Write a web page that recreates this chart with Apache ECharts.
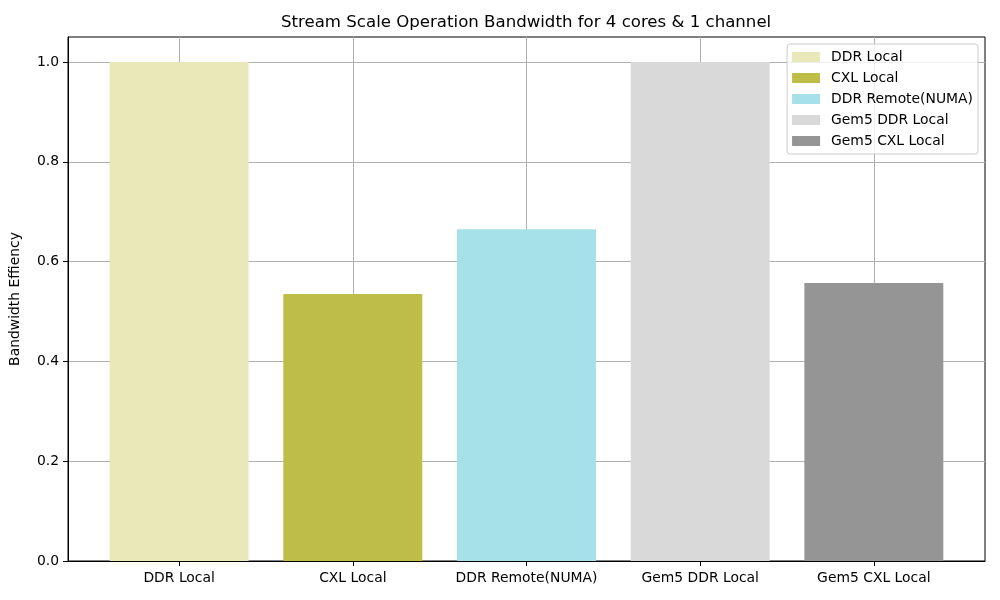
<!DOCTYPE html>
<html>
<head>
<meta charset="utf-8">
<script src="https://cdn.jsdelivr.net/npm/echarts@6/dist/echarts.min.js"></script>
<style>html,body{margin:0;padding:0;background:#fff}#c{width:1000px;height:600px}</style>
</head>
<body>
<div id="c"></div>
<script>
const categories = ['DDR Local', 'CXL Local', 'DDR Remote(NUMA)', 'Gem5 DDR Local', 'Gem5 CXL Local'];
const values = [1.0, 0.535, 0.665, 1.0, 0.557];
const colors = ['#e8e8b9', '#bdbd48', '#a6e0e8', '#d9d9d9', '#959595'];
const yTicks = [0, 0.2, 0.4, 0.6, 0.8, 1.0];
const xTicks = [0, 1, 2, 3, 4];

const FONT = 'DejaVu Sans';
const chart = echarts.init(document.getElementById('c'), null, {renderer: 'canvas'});
const series = categories.map((name, i) => ({
  name: name,
  type: 'bar',
  data: [[i, values[i]]],
  barWidth: '80%',
  barGap: '-100%',
  itemStyle: {color: colors[i]},
  z: 2
}));
chart.setOption({
  animation: false,
  textStyle: {fontFamily: FONT},
  title: {
    text: 'Stream Scale Operation Bandwidth for 4 cores & 1 channel',
    left: 276, top: 9,
    textStyle: {fontFamily: FONT, fontSize: 16.6, fontWeight: 'normal', color: '#000'}
  },
  grid: {left: 66, right: 15, top: 37, bottom: 39, show: true, borderColor: '#000', borderWidth: 1, backgroundColor: 'transparent'},
  legend: {
    orient: 'vertical', right: 22, top: 44,
    itemWidth: 28, itemHeight: 10, itemGap: 7,
    icon: 'rect',
    padding: [6, 5, 6, 5],
    backgroundColor: 'rgba(255,255,255,0.8)',
    borderColor: '#cccccc', borderWidth: 1, borderRadius: 3,
    formatter: name => '{t|' + name + '}',
    textStyle: {fontFamily: FONT, fontSize: 13.9, color: '#000',
      rich: {t: {fontFamily: FONT, fontSize: 13.9, color: '#000', padding: [0, 0, 0, 6]}}},
    data: categories
  },
  xAxis: {
    type: 'value', min: -0.64, max: 4.64,
    axisLine: {show: true, onZero: false, lineStyle: {color: '#000', width: 1}},
    axisTick: {show: true, inside: false, length: 5, customValues: xTicks, lineStyle: {color: '#000', width: 1}},
    axisLabel: {customValues: xTicks, margin: 10, color: '#000', fontFamily: FONT, fontSize: 13.9,
      formatter: v => categories[Math.round(v)] || ''},
    splitLine: {show: true, lineStyle: {color: '#b0b0b0', width: 1}}
  },
  yAxis: {
    type: 'value', min: 0, max: 1.05,
    name: 'Bandwidth Effiency', nameLocation: 'middle', nameRotate: 90, nameGap: 46,
    nameTextStyle: {fontFamily: FONT, fontSize: 13.9, color: '#000'},
    axisLine: {show: true, onZero: false, lineStyle: {color: '#000', width: 1}},
    axisTick: {show: true, inside: false, length: 5, customValues: yTicks, lineStyle: {color: '#000', width: 1}},
    axisLabel: {customValues: yTicks, margin: 9, color: '#000', fontFamily: FONT, fontSize: 13.9,
      formatter: v => v.toFixed(1)},
    splitLine: {show: true, lineStyle: {color: '#b0b0b0', width: 1}}
  },
  series: series
});
</script>
</body>
</html>
